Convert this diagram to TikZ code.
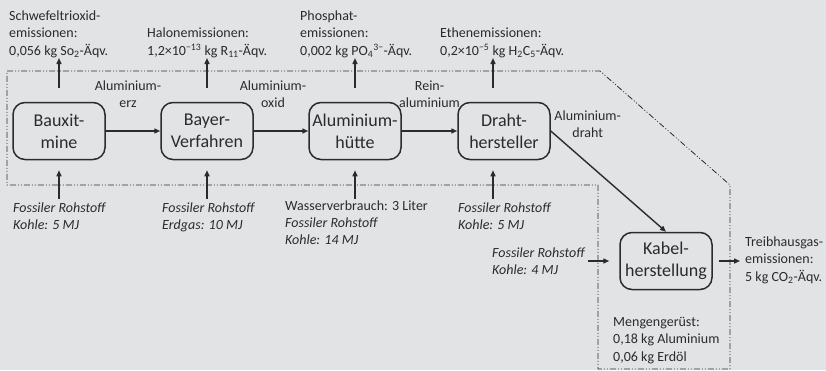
\documentclass[tikz,border=0pt]{standalone}
\usepackage{fontspec}
\setmainfont{Carlito}
\usetikzlibrary{arrows.meta,positioning}
\definecolor{bgGray}{HTML}{E2E3E5}
\definecolor{inkGray}{HTML}{2B2B2B}

\begin{document}
\begin{tikzpicture}[
  x=1pt, y=-1pt,
  >={Triangle[length=6pt,width=5pt]},
  proc/.style={draw=inkGray, line width=1.5pt, rounded corners=12pt, minimum width=92pt,
               minimum height=57pt, inner sep=0pt, align=center, text=inkGray,
               font=\fontsize{18}{22}\selectfont},
  txt/.style={inner sep=0pt, align=left, text=inkGray, font=\fontsize{14}{17.5}\selectfont},
  inp/.style={txt, font=\fontsize{14}{17}\selectfont\itshape},
  lbl/.style={inner sep=0pt, align=center, text=inkGray, font=\fontsize{14}{16.5}\selectfont},
  flow/.style={->, draw=inkGray, line width=1.4pt},
  bound/.style={draw=inkGray, line width=0.8pt,
                dash pattern=on 6pt off 2pt on 1pt off 2pt on 1pt off 2pt},
]
\fill[bgGray] (0,0) rectangle (826,370);
\useasboundingbox (0,0) rectangle (826,370);

% Systemgrenze
\draw[bound] (7,71) -- (600,71) -- (730,185) -- (730,369) -- (598,369)
  -- (598,185) -- (7,185) -- cycle;

% Prozesse
\node[proc] (bauxit) at (59,131) {Bauxit-\\mine};
\node[proc] (bayer) at (207,131) {Bayer-\\Verfahren};
\node[proc] (huette) at (355,131) {Aluminium-\\hütte};
\node[proc] (draht) at (504,131) {Draht-\\hersteller};
\node[proc] (kabel) at (666,261) {Kabel-\\herstellung};

% Stofffluss
\draw[flow] (bauxit) -- node[lbl, above=23pt, xshift=-5pt] {Aluminium-\\erz} (bayer);
\draw[flow] (bayer) -- node[lbl, above=23pt, xshift=-8pt] {Aluminium-\\oxid} (huette);
\draw[flow] (huette) -- node[lbl, above=23pt] {Rein-\\aluminium} (draht);
\draw[flow] (draht.east) -- node[lbl, pos=0, anchor=west, xshift=3pt, yshift=7pt]
  {Aluminium-\\draht} (kabel.north);

% Emissionen
\node[txt, anchor=south west] (e1) at (9,58)
  {Schwefeltrioxid-\\emissionen:\\0,056 kg So\textsubscript{2}-Äqv.};
\node[txt, anchor=south west] (e2) at (147,58)
  {Halonemissionen:\\1,2×10\textsuperscript{−13} kg R\textsubscript{11}-Äqv.};
\node[txt, anchor=south west] (e3) at (300,58)
  {Phosphat-\\emissionen:\\0,002 kg PO\textsubscript{4}\textsuperscript{3−}-Äqv.};
\node[txt, anchor=south west] (e4) at (440,58)
  {Ethenemissionen:\\0,2×10\textsuperscript{−5} kg H\textsubscript{2}C\textsubscript{5}-Äqv.};
\coordinate (d4) at ([xshift=-11pt]draht.north);
\draw[flow] ([yshift=14pt]bauxit.north) -- (bauxit.north |- e1.south);
\draw[flow] ([yshift=14pt]bayer.north) -- (bayer.north |- e2.south);
\draw[flow] ([yshift=14pt]huette.north) -- (huette.north |- e3.south);
\draw[flow] ([yshift=14pt]d4) -- (d4 |- e4.south);

% Rohstoffe
\node[inp, anchor=north west] (i1) at (13,203) {Fossiler Rohstoff\\Kohle: 5 MJ};
\node[inp, anchor=north west] (i2) at (162,203) {Fossiler Rohstoff\\Erdgas: 10 MJ};
\node[inp, anchor=north west] (i3) at (285,201)
  {\textup{Wasserverbrauch: 3 Liter}\\Fossiler Rohstoff\\Kohle: 14 MJ};
\node[inp, anchor=north west] (i4) at (458,203) {Fossiler Rohstoff\\Kohle: 5 MJ};
\node[inp, anchor=north west] (i5) at (492,248) {Fossiler Rohstoff\\Kohle: 4 MJ};
\coordinate (d5) at ([xshift=-11pt]draht.south);
\draw[flow, shorten <=4pt] (bauxit.south |- i1.north) -- ([yshift=-10pt]bauxit.south);
\draw[flow, shorten <=4pt] (bayer.south |- i2.north) -- ([yshift=-10pt]bayer.south);
\draw[flow, shorten <=2pt] (huette.south |- i3.north) -- ([yshift=-10pt]huette.south);
\draw[flow, shorten <=4pt] (d5 |- i4.north) -- ([yshift=-10pt]d5);
\draw[flow, shorten <=3pt] (i5.east |- kabel.west) -- ([xshift=-10pt]kabel.west);

% Output
\node[txt, anchor=west] (t) at (745,260)
  {Treibhausgas-\\emissionen:\\5 kg CO\textsubscript{2}-Äqv.};
\draw[flow, shorten <=6pt, shorten >=5pt] (kabel.east) -- (t.west |- kabel.east);
\node[txt, anchor=north west] (m) at (613,317)
  {Mengengerüst:\\0,18 kg Aluminium\\0,06 kg Erdöl};
\end{tikzpicture}
\end{document}
